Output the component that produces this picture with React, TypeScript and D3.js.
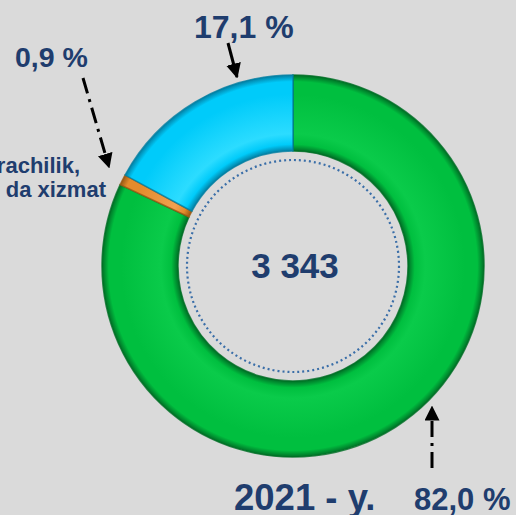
import React from "react";
import * as d3 from "d3";

const categories = ["Boshqa tarmoqlar", "rachilik, da xizmat", "Xizmatlar"];
const values = [82.0, 0.9, 17.1];
const percentLabels = ["82,0 %", "0,9 %", "17,1 %"];
const totalLabel = "3 343";
const yearLabel = "2021 - y.";
const sideLabelLines = ["rachilik,", "da xizmat"];

const W = 516;
const H = 515;
const CX = 293;
const CY = 266;
const R_OUT = 191;
const R_IN = 115;

const colors = [
  { base: "#00bf3f", dark: "#006f26", light: "#0acb4a" },
  { base: "#e38b2c", dark: "#9a5a14", light: "#f0a050" },
  { base: "#00cbfa", dark: "#037fa3", light: "#2cdcff" },
];

const TEXT = "#1f3d6e";
const FONT = "'Liberation Sans', Arial, sans-serif";

export default function App() {
  const pie = d3
    .pie<number>()
    .sort(null)
    .startAngle(0)
    .endAngle(2 * Math.PI)
    .value((d) => d);
  const arcs = pie(values);
  const arc = d3.arc<d3.PieArcDatum<number>>().innerRadius(R_IN).outerRadius(R_OUT);
  const fracIn = R_IN / R_OUT;

  return (
    <svg
      width={W}
      height={H}
      style={{ position: "absolute", left: 0, top: 0, display: "block" }}
    >
      <defs>
        {colors.map((c, i) => (
          <radialGradient
            key={i}
            id={`g${i}`}
            gradientUnits="userSpaceOnUse"
            cx={0}
            cy={0}
            r={R_OUT}
          >
            <stop offset={fracIn} stopColor={c.dark} />
            <stop offset={fracIn + 0.035} stopColor={c.base} />
            <stop offset={fracIn + 0.09} stopColor={c.light} />
            <stop offset={0.9} stopColor={c.base} />
            <stop offset={0.965} stopColor={c.base} />
            <stop offset={1} stopColor={c.dark} />
          </radialGradient>
        ))}
        <marker
          id="arr"
          viewBox="0 0 10 10"
          refX="9"
          refY="5"
          markerWidth="5"
          markerHeight="5"
          orient="auto"
          markerUnits="strokeWidth"
        >
          <path d="M0,0 L10,5 L0,10 z" fill="#000" />
        </marker>
      </defs>
      <rect x={0} y={0} width={W} height={H} fill="#dadada" />

      <g transform={`translate(${CX},${CY})`}>
        {arcs.map((a, i) => (
          <path
            key={categories[i]}
            d={arc(a) || ""}
            fill={`url(#g${i})`}
            stroke={colors[i].dark}
            strokeWidth={1.5}
            strokeOpacity={0.8}
          />
        ))}
        <circle
          r={106}
          fill="none"
          stroke="#3a6ea8"
          strokeWidth={2.2}
          strokeDasharray="2 3"
        />
      </g>

      <text
        x={CX + 2}
        y={278}
        textAnchor="middle"
        fontFamily={FONT}
        fontWeight="bold"
        fontSize={35}
        fill={TEXT}
      >
        {totalLabel}
      </text>

      <text x={194} y={38} fontFamily={FONT} fontWeight="bold" fontSize={32} fill={TEXT}>
        {percentLabels[2]}
      </text>
      <text x={15} y={67} fontFamily={FONT} fontWeight="bold" fontSize={28.5} fill={TEXT}>
        {percentLabels[1]}
      </text>
      <text x={414} y={510} fontFamily={FONT} fontWeight="bold" fontSize={31} fill={TEXT}>
        {percentLabels[0]}
      </text>
      <text x={234} y={510} fontFamily={FONT} fontWeight="bold" fontSize={36.5} fill={TEXT}>
        {yearLabel}
      </text>

      <text
        x={80}
        y={173}
        textAnchor="end"
        fontFamily={FONT}
        fontWeight="bold"
        fontSize={22}
        fill={TEXT}
      >
        {sideLabelLines[0]}
      </text>
      <text
        x={106}
        y={197}
        textAnchor="end"
        fontFamily={FONT}
        fontWeight="bold"
        fontSize={22}
        fill={TEXT}
      >
        {sideLabelLines[1]}
      </text>

      <line
        x1={228}
        y1={43}
        x2={237}
        y2={77}
        stroke="#000"
        strokeWidth={3}
        markerEnd="url(#arr)"
      />
      <line
        x1={83}
        y1={78}
        x2={109}
        y2={167}
        stroke="#000"
        strokeWidth={3}
        strokeDasharray="16 6 3 6"
        markerEnd="url(#arr)"
      />
      <line
        x1={432}
        y1={468}
        x2={432}
        y2={407}
        stroke="#000"
        strokeWidth={3}
        strokeDasharray="16 6 3 6"
        markerEnd="url(#arr)"
      />
    </svg>
  );
}
